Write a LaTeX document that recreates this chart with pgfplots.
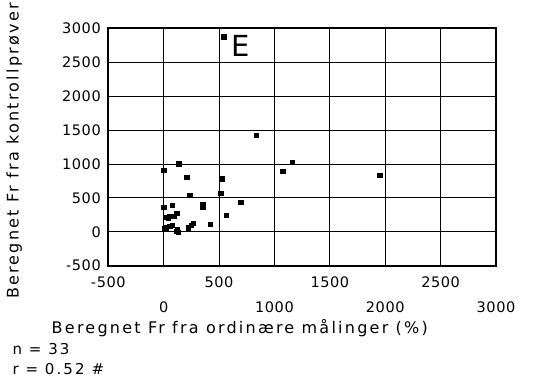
\documentclass[border=0pt]{standalone}
\usepackage{pgfplots}
\pgfplotsset{compat=1.18}
\usepackage{fontspec}
\setmainfont{DejaVu Sans}
\newfontfamily\lblfont{DejaVu Sans}[LetterSpace=14]
\newfontfamily\tickfont{DejaVu Sans}[LetterSpace=4]
\begin{document}
\begin{tikzpicture}[x=1bp,y=1bp]
\useasboundingbox (0,0) rectangle (535,378);
\begin{axis}[
  at={(108.3bp,112.3bp)}, anchor=south west,
  scale only axis, width=387.7bp, height=237.2bp,
  xmin=-500, xmax=3000, ymin=-500, ymax=3000,
  xtick={-500,0,500,1000,1500,2000,2500,3000},
  ytick={-500,0,500,1000,1500,2000,2500,3000},
  xticklabels={{-500\\[9bp]\phantom{0}},{\phantom{0}\\[9bp]0},{500\\[9bp]\phantom{0}},{\phantom{0}\\[9bp]1000},{1500\\[9bp]\phantom{0}},{\phantom{0}\\[9bp]2000},{2500\\[9bp]\phantom{0}},{\phantom{0}\\[9bp]3000}},
  yticklabels={-500,0,500,1000,1500,2000,2500,3000},
  xticklabel style={align=center, font=\tickfont\fontsize{14.5bp}{16bp}\selectfont, yshift=-8bp},
  yticklabel style={font=\tickfont\fontsize{14.5bp}{16bp}\selectfont, xshift=-4bp},
  grid=major, major grid style={black, line width=1bp},
  major tick length=0pt,
  axis line style={line width=2bp},
  xlabel={Beregnet Fr fra ordinære målinger (\%)},
  xlabel style={at={(axis description cs:-0.155,-0.265)}, anchor=west, font=\lblfont\fontsize{16bp}{18bp}\selectfont},
  ylabel={Beregnet Fr fra kontrollprøver},
  ylabel style={at={(axis description cs:-0.243,-0.155)}, anchor=west, font=\lblfont\fontsize{16bp}{18bp}\selectfont},
  clip=false,
]
\addplot[only marks, mark=square*, mark size=2.1bp, black] coordinates {
(541,2880) (836,1420) (1161,1030) (1075,890) (1950,830)
(135,1006) (0,910) (208,809) (530,785) (515,565)
(235,538) (695,441) (352,410) (352,370) (0,368)
(75,397) (563,250) (420,110) (22,212) (50,225)
(90,236) (118,272) (22,62) (55,85) (125,40)
(115,15) (130,-10) (222,60) (245,100) (265,125)
(40,200) (80,100) (10,55)
};
\node at (axis cs:695,2742) {\fontsize{29bp}{30bp}\selectfont E};
\end{axis}
\node[anchor=west, font=\lblfont\fontsize{15bp}{17bp}\selectfont] at (9bp,29bp) {n = 33};
\node[anchor=west, font=\lblfont\fontsize{15bp}{17bp}\selectfont] at (9bp,9bp) {r = 0.52 \#};
\end{tikzpicture}
\end{document}
